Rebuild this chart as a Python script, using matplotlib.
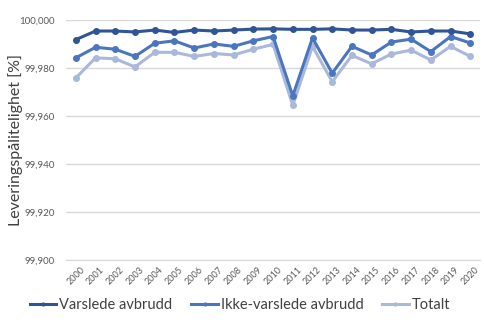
import numpy as np
import matplotlib.pyplot as plt
from matplotlib.ticker import FuncFormatter

years = [str(y) for y in range(2000, 2021)]
varslede = [99.9920, 99.9956, 99.9956, 99.9952, 99.9960, 99.9950, 99.9960, 99.9956,
            99.9960, 99.9964, 99.9965, 99.9963, 99.9963, 99.9965, 99.9960, 99.9960,
            99.9963, 99.9952, 99.9956, 99.9956, 99.9944]
ikke_varslede = [99.9844, 99.9888, 99.9880, 99.9850, 99.9905, 99.9915, 99.9885, 99.9902,
                 99.9892, 99.9915, 99.9933, 99.9685, 99.9927, 99.9780, 99.9892, 99.9856,
                 99.9910, 99.9922, 99.9870, 99.9933, 99.9906]
totalt = [99.9760, 99.9844, 99.9840, 99.9806, 99.9867, 99.9867, 99.9850, 99.9862,
          99.9856, 99.9880, 99.9900, 99.9646, 99.9892, 99.9744, 99.9854, 99.9819,
          99.9860, 99.9876, 99.9835, 99.9892, 99.9850]

plt.rcParams['font.family'] = ['Lato', 'DejaVu Sans']

fig = plt.figure(figsize=(4.85, 3.25), dpi=100)
ax = fig.add_axes([0.136, 0.2, 0.854, 0.737])

x = np.arange(len(years))
ax.plot(x, varslede, color='#2F5597', lw=2.2, marker='o', ms=4, label='Varslede avbrudd', zorder=3)
ax.plot(x, ikke_varslede, color='#4A76C0', lw=2.2, marker='o', ms=4, label='Ikke-varslede avbrudd', zorder=2)
ax.plot(x, totalt, color='#AAB8DB', lw=2.2, marker='o', ms=4, label='Totalt', zorder=1)

ax.set_xlim(-0.5, len(years) - 0.5)
ax.set_ylim(99.9, 100.0)
ax.set_yticks(np.arange(99.9, 100.0001, 0.02))
ax.yaxis.set_major_formatter(FuncFormatter(lambda v, p: f"{v:.3f}".replace('.', ',')))
ax.set_xticks(x)
ax.set_xticklabels(years, rotation=45, fontsize=6.5, color='#595959')
ax.tick_params(axis='y', labelsize=7, colors='#595959', length=0, pad=8)
ax.tick_params(axis='x', length=0, pad=4)
ax.grid(axis='y', color='#D9D9D9', lw=1)
ax.set_axisbelow(True)
for s in ['top', 'right', 'left']:
    ax.spines[s].set_visible(False)
ax.spines['bottom'].set_color('#D9D9D9')

ax.set_ylabel('Leveringspålitelighet [%]', fontsize=11.5, color='#404040')
ax.yaxis.set_label_coords(-0.104, 0.5)

fig.legend(loc='lower center', bbox_to_anchor=(0.495, 0.0), ncol=3, frameon=False,
           fontsize=10.5, handlelength=1.8, handletextpad=0.2, columnspacing=1.3,
           labelcolor='#404040', markerscale=0.5)

fig.savefig('out.png', dpi=100)
